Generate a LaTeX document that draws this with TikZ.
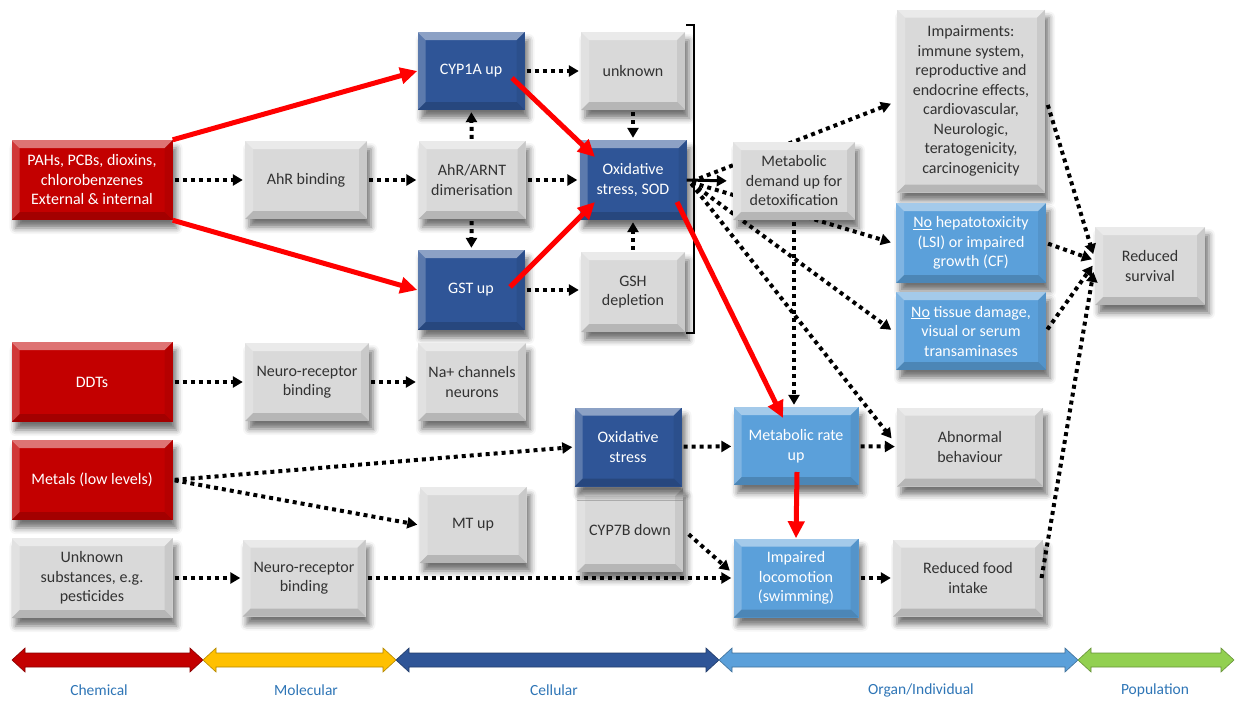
\documentclass[tikz,border=0pt]{standalone}
\usepackage{fontspec}
\setmainfont{Carlito}
\usetikzlibrary{arrows.meta,shadows.blur,calc}
\pgfdeclarelayer{bg}
\pgfsetlayers{bg,main}
\definecolor{cRed}{RGB}{195,0,0}
\definecolor{cBright}{RGB}{255,0,0}
\definecolor{cDBlue}{RGB}{47,85,151}
\definecolor{cLBlue}{RGB}{91,160,218}
\definecolor{cGray}{RGB}{217,217,217}
\definecolor{cText}{RGB}{50,50,50}
\definecolor{cLabel}{RGB}{46,117,182}
\definecolor{cYel}{RGB}{255,192,0}
\definecolor{cGreen}{RGB}{146,208,80}
\newcommand{\levelarrow}[3]{%
  \filldraw[fill=#3, draw=#3!70!black, line width=0.6pt] (#1,660) -- (#1+13,648) -- (#1+13,653) -- (#2-13,653) -- (#2-13,648) -- (#2,660) -- (#2-13,672) -- (#2-13,667) -- (#1+13,667) -- (#1+13,672) -- cycle;}
\tikzset{
  bevel/.style={path picture={
    \path (path picture bounding box.north west) coordinate (bvnw)
          (path picture bounding box.north east) coordinate (bvne)
          (path picture bounding box.south west) coordinate (bvsw)
          (path picture bounding box.south east) coordinate (bvse);
    \fill[white,opacity=.45] (bvnw) -- (bvne) -- ([shift={(-8pt,-8pt)}]bvne) -- ([shift={(8pt,-8pt)}]bvnw) -- cycle;
    \fill[white,opacity=.22] (bvnw) -- ([shift={(8pt,-8pt)}]bvnw) -- ([shift={(8pt,8pt)}]bvsw) -- (bvsw) -- cycle;
    \fill[black,opacity=.16] (bvsw) -- (bvse) -- ([shift={(-8pt,8pt)}]bvse) -- ([shift={(8pt,8pt)}]bvsw) -- cycle;
    \fill[black,opacity=.07] (bvne) -- (bvse) -- ([shift={(-8pt,8pt)}]bvse) -- ([shift={(-8pt,-8pt)}]bvne) -- cycle;
  }},
  wh/.style 2 args={minimum width=#1pt, minimum height=#2pt},
  box/.style={rectangle, inner sep=0pt, align=center, font=\fontsize{16}{19.5}\selectfont,
    blur shadow={shadow xshift=4pt, shadow yshift=-8pt, shadow blur radius=6pt, shadow opacity=55}, bevel},
  graybox/.style={box, fill=cGray, text=cText},
  redbox/.style={box, fill=cRed, text=white},
  dbox/.style={box, fill=cDBlue, text=white},
  lbox/.style={box, fill=cLBlue, text=white},
  dotarrow/.style={line width=4pt, dash pattern=on 4pt off 4pt, -{Triangle[length=10pt,width=11pt]}, shorten >=2pt, shorten <=2pt},
  redarrow/.style={line width=5pt, draw=cBright, -{Triangle[length=17pt,width=16pt]}},
  solidarrow/.style={line width=3pt, -{Triangle[length=10pt,width=11pt]}},
  lvl/.style={font=\fontsize{15.5}{17}\selectfont, text=cLabel},
}
\begin{document}
\begin{tikzpicture}[x=1pt,y=-1pt]
\useasboundingbox (0,0) rectangle (1237,704);
% nodes
\node[redbox, wh={161}{80}] (pah) at (92,180) {PAHs, PCBs, dioxins,\\chlorobenzenes\\External \& internal};
\node[graybox, wh={122}{78}] (ahrb) at (306,180) {AhR binding};
\node[graybox, wh={107}{78}] (arnt) at (472,180) {AhR/ARNT\\dimerisation};
\node[dbox, wh={107}{78}] (cyp) at (471,71) {CYP1A up};
\node[dbox, wh={107}{80}] (gst) at (471,290) {GST up};
\node[graybox, wh={104}{78}] (unk) at (633,71) {unknown};
\node[dbox, wh={107}{80}] (oxs) at (633,180) {Oxidative\\stress, SOD};
\node[graybox, wh={104}{80}] (gsh) at (633,292) {GSH\\depletion};
\node[graybox, wh={122}{78}] (mdem) at (794,181) {Metabolic\\demand up for\\detoxification};
\node[graybox, wh={148}{183}] (imp) at (971,101) {Impairments:\\immune system,\\reproductive and\\endocrine effects,\\cardiovascular,\\Neurologic,\\teratogenicity,\\carcinogenicity};
\node[lbox, wh={150}{80}] (nohep) at (971,243) {\underline{No} hepatotoxicity\\(LSI) or impaired\\growth (CF)};
\node[lbox, wh={150}{78}] (notis) at (971,331) {\underline{No} tissue damage,\\visual or serum\\transaminases};
\node[graybox, wh={110}{78}] (surv) at (1150,266) {Reduced\\survival};
\node[redbox, wh={161}{80}] (ddt) at (92,382) {DDTs};
\node[graybox, wh={124}{78}] (nr1) at (307,382) {Neuro-receptor\\binding};
\node[graybox, wh={108}{78}] (na) at (472,382) {Na+ channels\\neurons};
\node[redbox, wh={161}{80}] (met) at (92,480) {Metals (low levels)};
\node[graybox, wh={106}{84}] (cyp7) at (630,530) {CYP7B down};
\node[dbox, wh={107}{79}] (ox2) at (628,447) {Oxidative\\stress};
\node[lbox, wh={125}{78}] (mru) at (796,446) {Metabolic rate\\up};
\node[graybox, wh={146}{79}] (abn) at (970,447) {Abnormal\\behaviour};
\node[graybox, wh={107}{76}] (mt) at (473,525) {MT up};
\node[graybox, wh={161}{80}] (unks) at (92,578) {Unknown\\substances, e.g.\\pesticides};
\node[graybox, wh={123}{77}] (nr2) at (304,578) {Neuro-receptor\\binding};
\node[lbox, wh={125}{79}] (iml) at (796,578) {Impaired\\locomotion\\(swimming)};
\node[graybox, wh={150}{77}] (food) at (968,578) {Reduced food\\intake};
% bracket
\draw[line width=2.5pt] (686,25) -- (694,25) -- (694,333) -- (686,333);
% fan from hub (behind boxes)
\coordinate (hub) at (690,182);
\begin{pgfonlayer}{bg}
\draw[dotarrow] (hub) -- ($(imp.west)+(-4,2)$);
\draw[dotarrow] (hub) -- ($(nohep.west)+(-3,0)$);
\draw[dotarrow] (hub) -- ($(notis.west)+(-3,0)$);
\draw[dotarrow] (hub) -- ($(abn.west)+(-4,-7)$);
\end{pgfonlayer}
\draw[solidarrow, shorten >=6pt] (oxs.east) -- (mdem.west);
% dotted connectors
\draw[dotarrow] (pah) -- (ahrb);
\draw[dotarrow] (ahrb) -- (arnt);
\draw[dotarrow] (arnt) -- (oxs);
\draw[dotarrow] (arnt) -- (cyp);
\draw[dotarrow] (arnt) -- (gst);
\draw[dotarrow] (cyp) -- (unk);
\draw[dotarrow] (unk) -- (oxs);
\draw[dotarrow] (gsh) -- (oxs);
\draw[dotarrow] (gst.east) -- (gst.east -| gsh.west);
\draw[dotarrow] (mdem.south) -- (mdem.south |- mru.north);
\draw[dotarrow] ($(imp.east)+(2,2)$) -- ($(surv.west)+(-1,-10)$);
\draw[dotarrow] (nohep.east) -- ($(surv.west)+(-1,-6)$);
\draw[dotarrow] (notis.east) -- ($(surv.west)+(-1,-2)$);
\draw[dotarrow] ($(food.east)+(-2,2)$) -- ($(surv.west)+(-1,4)$);
\draw[dotarrow] (ddt) -- (nr1);
\draw[dotarrow] (nr1) -- (na);
\draw[dotarrow] (met.east) -- (ox2.west);
\draw[dotarrow] (met.east) -- (mt.west);
\draw[dotarrow] (unks) -- (nr2);
\draw[dotarrow] (nr2.east) -- (nr2.east -| iml.west);
\draw[dotarrow] ($(cyp7.east)+(4,3)$) -- ($(iml.west)+(-2,-6)$);
\draw[dotarrow] (ox2) -- (mru);
\draw[dotarrow] (mru) -- (abn);
\draw[dotarrow] (iml) -- (food);
% red connectors
\draw[redarrow] (pah.north east) -- (cyp.west);
\draw[redarrow] (pah.south east) -- (gst.west);
\draw[redarrow] ($(cyp.center)+(41,7)$) -- ($(oxs.center)+(-38,-23)$);
\draw[redarrow] ($(gst.center)+(39,-3)$) -- ($(oxs.center)+(-38,22)$);
\draw[redarrow] ($(oxs.center)+(44,22)$) -- ($(mru.center)+(-13,-28)$);
\draw[redarrow] ($(mru.center)+(1,26)$) -- (iml.north -| mru.center);
% level arrows
\levelarrow{12}{203}{cRed}
\levelarrow{203}{396}{cYel}
\levelarrow{396}{719}{cDBlue}
\levelarrow{719}{1078}{cLBlue}
\levelarrow{1078}{1234}{cGreen}
\node[lvl] (lchem) at (99,690) {Chemical};
\node[lvl] (lmol) at (306,690) {Molecular};
\node[lvl] (lcell) at (554,690) {Cellular};
\node[lvl] (lorg) at (921,690) {Organ/Individual};
\node[lvl] (lpop) at (1155,690) {Population};
\end{tikzpicture}
\end{document}
